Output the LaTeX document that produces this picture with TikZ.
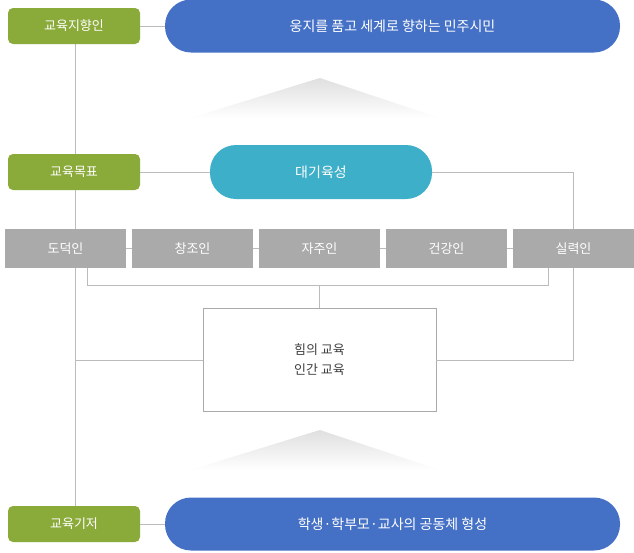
\documentclass[tikz,border=0pt]{standalone}
\usepackage{fontspec}
\setmainfont{Noto Sans CJK KR}
\begin{document}
\begin{tikzpicture}[x=1pt,y=-1pt,
 green/.style={fill=green1,rounded corners=5pt,text=white,font=\fontsize{13}{15}\selectfont,minimum width=132pt,minimum height=36pt,inner sep=0},
 pill/.style={fill=blue1,rounded corners=26pt,text=white,font=\fontsize{14}{16}\selectfont,minimum width=455pt,minimum height=53pt,inner sep=0},
 gbox/.style={fill=gray1,text=white,font=\fontsize{13}{15}\selectfont,minimum width=121pt,minimum height=39pt,inner sep=0},
 ln/.style={draw=lgray,line width=0.8pt}]
\definecolor{green1}{HTML}{8AAA3A}
\definecolor{blue1}{HTML}{4470C6}
\definecolor{teal1}{HTML}{3EAFC8}
\definecolor{gray1}{HTML}{AAAAAA}
\definecolor{lgray}{HTML}{BBBBBB}
\useasboundingbox (0,0) rectangle (634,552);
\draw[ln] (75,26) -- (75,524);
\node[green] (g1) at (74,26) {교육지향인};
\node[green] (g2) at (74,172) {교육목표};
\node[green] (g3) at (74,524) {교육기저};
\node[pill] (p1) at (392.5,26) {웅지를 품고 세계로 향하는 민주시민};
\node[pill] (p2) at (392.5,524) {학생·학부모·교사의 공동체 형성};
\node[pill,fill=teal1,minimum width=222pt,minimum height=54pt] (t) at (321,172) {대기육성};
\draw[ln] (g1) -- (p1); \draw[ln] (g3) -- (p2); \draw[ln] (g2) -- (t);
\shade[top color=gray!25,bottom color=white] (190,118) -- (320,78) -- (440,118) -- cycle;
\shade[top color=gray!25,bottom color=white] (190,470) -- (320,430) -- (440,470) -- cycle;
\node[draw=gray1,fill=white,minimum width=233pt,minimum height=103pt,align=center,text=black!75,font=\fontsize{13}{20}\selectfont] (b) at (319.5,360) {힘의 교육\\인간 교육};
\foreach \n/\x/\s in {a/65.5/도덕인,c/192.5/창조인,d/319.5/자주인,e/446.5/건강인,f/573.5/실력인}
  \node[gbox] (\n) at (\x,248.5) {\s};
\draw[ln] (a) -- (c); \draw[ln] (c) -- (d); \draw[ln] (d) -- (e); \draw[ln] (e) -- (f);
\draw[ln] (t.east) -| (f.north);
\draw[ln] (f.south) |- (b.east);
\draw[ln] (75,360) -- (b.west);
\draw[ln] (87,268) -- (87,285) -- (548,285) -- (548,268);
\draw[ln] (d.south |- 0,285) -- (b.north);
\end{tikzpicture}
\end{document}
